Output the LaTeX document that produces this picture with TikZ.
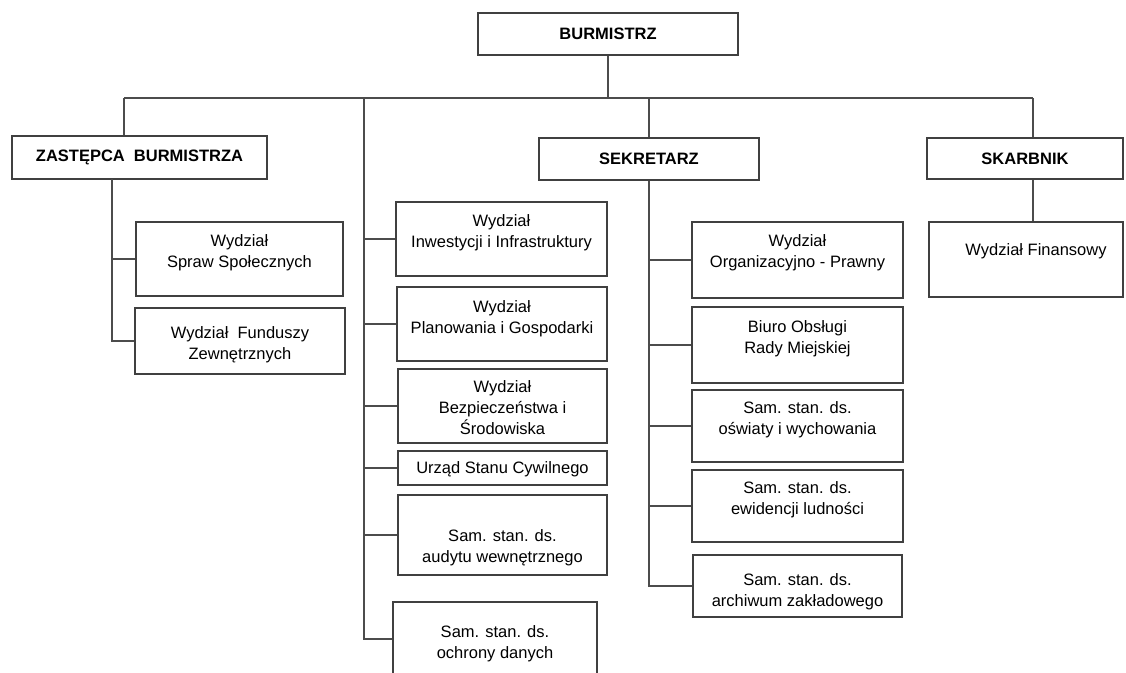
\documentclass[tikz,border=0pt]{standalone}
\usepackage{fontspec}
\setmainfont{Liberation Sans}

\begin{document}
\begin{tikzpicture}[x=1pt,y=-1pt]
		\tikzset{head/.style = {shape=rectangle, draw=black!75, line width=1.2pt, inner sep=0pt, font=\bfseries\fontsize{16.5}{21}\selectfont}}
		\tikzset{dept/.style = {shape=rectangle, draw=black!75, line width=1.2pt, inner sep=0pt}}
		\tikzset{dtext/.style = {anchor=north, yshift=-#1, align=center, inner sep=0pt, font=\fontsize{16.5}{21}\selectfont}, dtext/.default=13pt}
		\tikzset{edge/.style = {draw=black!70, line width=1.1pt}}

		\useasboundingbox (0,0) rectangle (1126,672);

		\node[head, minimum width=260pt, minimum height=42pt] (B_0) at (608,34) {BURMISTRZ};
		\node[head, minimum width=255pt, minimum height=43pt] (Z_0) at (139.5,157.5) {ZASTĘPCA~~BURMISTRZA};
		\node[head, minimum width=220pt, minimum height=42pt] (S_0) at (649,159) {SEKRETARZ};
		\node[head, minimum width=196pt, minimum height=41pt] (K_0) at (1025,158.5) {SKARBNIK};

		\node[dept, minimum width=207pt, minimum height=74pt, label={[dtext]north:{Wydział\\Spraw Społecznych}}] (Z_1) at (239.5,259) {};
		\node[dept, minimum width=210pt, minimum height=66pt, label={[dtext=19pt]north:{Wydział~~Funduszy\\Zewnętrznych}}] (Z_2) at (240,341) {};

		\node[dept, minimum width=211pt, minimum height=74pt, label={[dtext]north:{Wydział\\Inwestycji i Infrastruktury}}] (M_1) at (501.5,239) {};
		\node[dept, minimum width=210pt, minimum height=74pt, label={[dtext=14pt]north:{Wydział\\Planowania i Gospodarki}}] (M_2) at (502,324) {};
		\node[dept, minimum width=209pt, minimum height=74pt, label={[dtext=12pt]north:{Wydział\\Bezpieczeństwa i\\Środowiska}}] (M_3) at (502.5,406) {};
		\node[dept, minimum width=209pt, minimum height=34pt, label={[dtext=11pt]north:{Urząd Stanu Cywilnego}}] (M_4) at (502.5,468) {};
		\node[dept, minimum width=209pt, minimum height=80pt, label={[dtext=35pt]north:{Sam. stan. ds.\\audytu wewnętrznego}}] (M_5) at (502.5,535) {};
		\node[dept, minimum width=204pt, minimum height=74pt, label={[dtext=24pt]north:{Sam. stan. ds.\\ochrony danych}}] (M_6) at (495,639) {};

		\node[dept, minimum width=211pt, minimum height=76pt, label={[dtext]north:{Wydział\\Organizacyjno - Prawny}}] (S_1) at (797.5,260) {};
		\node[dept, minimum width=211pt, minimum height=76pt, label={[dtext=14pt]north:{Biuro Obsługi\\Rady Miejskiej}}] (S_2) at (797.5,345) {};
		\node[dept, minimum width=211pt, minimum height=72pt, label={[dtext=12pt]north:{Sam. stan. ds.\\oświaty i wychowania}}] (S_3) at (797.5,426) {};
		\node[dept, minimum width=211pt, minimum height=72pt, label={[dtext=12pt]north:{Sam. stan. ds.\\ewidencji ludności}}] (S_4) at (797.5,506) {};
		\node[dept, minimum width=209pt, minimum height=62pt, label={[dtext=19pt]north:{Sam. stan. ds.\\archiwum zakładowego}}] (S_5) at (797.5,586) {};

		\node[dept, minimum width=194pt, minimum height=75pt, label={[dtext=22pt, xshift=10pt]north:{Wydział Finansowy}}] (K_1) at (1026,259.5) {};

		\coordinate (bz) at (124,98);
		\coordinate (bm) at (364,98);
		\coordinate (bk) at (1033,98);
		\coordinate (zv) at (112,179);

		\draw[edge] (B_0) to (B_0 |- bz);
		\draw[edge] (bz) to (bk);
		\draw[edge] (bz) to (bz |- Z_0.north);
		\draw[edge] (S_0.north |- bz) to (S_0.north);
		\draw[edge] (bk) to (bk |- K_0.north);
		\draw[edge] (bk |- K_0.south) to (bk |- K_1.north);

		\draw[edge] (zv) |- (Z_2.west);
		\draw[edge] (zv |- Z_1.west) to (Z_1.west);

		\draw[edge] (bm) |- (M_6.west);
		\draw[edge] (bm |- M_1.west) to (M_1.west);
		\draw[edge] (bm |- M_2.west) to (M_2.west);
		\draw[edge] (bm |- M_3.west) to (M_3.west);
		\draw[edge] (bm |- M_4.west) to (M_4.west);
		\draw[edge] (bm |- M_5.west) to (M_5.west);

		\draw[edge] (S_0.south) |- (S_5.west);
		\draw[edge] (S_0.south |- S_1.west) to (S_1.west);
		\draw[edge] (S_0.south |- S_2.west) to (S_2.west);
		\draw[edge] (S_0.south |- S_3.west) to (S_3.west);
		\draw[edge] (S_0.south |- S_4.west) to (S_4.west);
	\end{tikzpicture}
\end{document}
